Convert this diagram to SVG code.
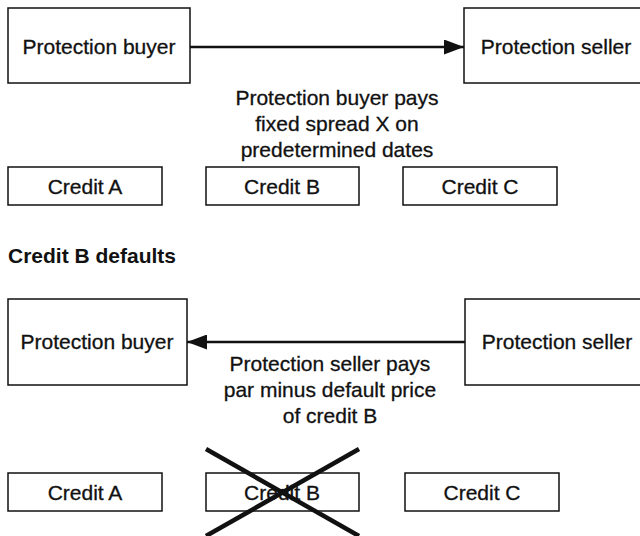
<svg xmlns="http://www.w3.org/2000/svg" width="640" height="536" viewBox="0 0 640 536">
<defs>
<style>
.box{fill:#fff;stroke:#111;stroke-width:1.5}
.t{font-family:"Liberation Sans",Arial,sans-serif;font-size:21px;fill:#111;stroke:#111;stroke-width:0.3;text-anchor:middle}
.h{font-family:"Liberation Sans",Arial,sans-serif;font-size:21px;font-weight:bold;fill:#111}
.conn{stroke:#111;stroke-width:2.5;fill:none}
.x{stroke:#111;stroke-width:4.5;fill:none}
</style>
<marker id="ah" markerWidth="8" markerHeight="6" refX="8" refY="3" orient="auto" markerUnits="strokeWidth">
<path d="M0,0 L8,3 L0,6 Z" fill="#111"/>
</marker>
</defs>
<rect width="640" height="536" fill="#fff"/>

<g id="buyer1"><rect class="box" x="8" y="8" width="182" height="75"/><text class="t" x="99" y="54">Protection buyer</text></g>
<g id="seller1"><rect class="box" x="464" y="8" width="180" height="75"/><text class="t" x="556" y="54">Protection seller</text></g>
<g id="creditA1"><rect class="box" x="8" y="167" width="154" height="38"/><text class="t" x="85" y="194">Credit A</text></g>
<g id="creditB1"><rect class="box" x="206" y="167" width="153" height="38"/><text class="t" x="282" y="194">Credit B</text></g>
<g id="creditC1"><rect class="box" x="403" y="167" width="154" height="38"/><text class="t" x="480" y="194">Credit C</text></g>

<text class="h" x="8" y="263">Credit B defaults</text>

<g id="buyer2"><rect class="box" x="8" y="299" width="179" height="86"/><text class="t" x="97" y="349">Protection buyer</text></g>
<g id="seller2"><rect class="box" x="465" y="299" width="180" height="86"/><text class="t" x="557" y="349">Protection seller</text></g>
<g id="creditA2"><rect class="box" x="8" y="473" width="154" height="38"/><text class="t" x="85" y="500">Credit A</text></g>
<g id="creditB2"><rect class="box" x="206" y="473" width="153" height="38"/><text class="t" x="282" y="500">Credit B</text></g>
<g id="creditC2"><rect class="box" x="405" y="473" width="154" height="38"/><text class="t" x="482" y="500">Credit C</text></g>

<g id="connectors">
<line class="conn" x1="190" y1="47" x2="464" y2="47" marker-end="url(#ah)"/>
<line class="conn" x1="465" y1="342" x2="187" y2="342" marker-end="url(#ah)"/>
</g>

<g id="labels">
<text class="t" x="337" y="105">Protection buyer pays</text>
<text class="t" x="337" y="131">fixed spread X on</text>
<text class="t" x="337" y="157">predetermined dates</text>
<text class="t" x="330" y="371">Protection seller pays</text>
<text class="t" x="330" y="397">par minus default price</text>
<text class="t" x="330" y="423">of credit B</text>
</g>

<g id="cross">
<line class="x" x1="206" y1="449" x2="359" y2="536"/>
<line class="x" x1="359" y1="449" x2="206" y2="536"/>
</g>
</svg>
